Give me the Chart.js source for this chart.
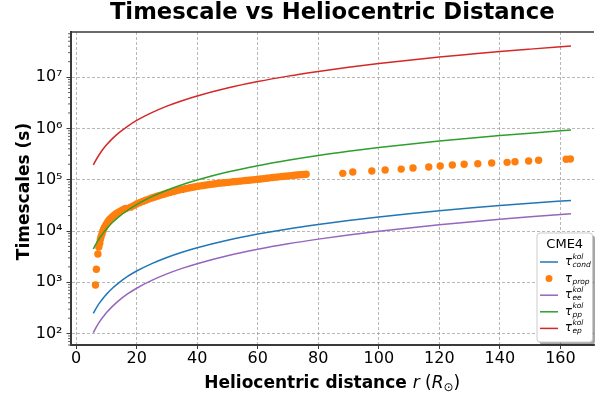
<!DOCTYPE html>
<html>
<head>
<meta charset="utf-8">
<script src="https://cdn.jsdelivr.net/npm/chart.js@4.4.1/dist/chart.umd.min.js"></script>
<style>
  html, body { margin: 0; padding: 0; background: #fff; overflow: hidden; }
  #chart { display: block; }
</style>
</head>
<body>
<canvas id="chart" width="598" height="395"></canvas>
<script>
// Model curves: heliocentric distance (R_sun) and timescales (s)
const rCurve = [5.7, 6, 7, 8, 9, 10, 12, 14, 17, 20, 25, 30, 35, 40, 50, 60, 70, 80, 90, 100, 110, 120, 130, 140, 150, 163.5];
const tauCond = [249, 269, 340, 415, 496, 582, 766, 966, 1300, 1660, 2320, 3050, 3850, 4720, 6610, 8710, 11000, 13400, 16000, 18800, 21700, 24800, 28000, 31300, 34700, 39500];
const tauEE = [104, 113, 145, 179, 215, 255, 340, 436, 593, 767, 1090, 1460, 1870, 2310, 3300, 4400, 5620, 6950, 8380, 9910, 11500, 13200, 15000, 16900, 18900, 21700];
const tauPP = [4460, 4830, 6180, 7640, 9200, 10900, 14600, 18600, 25400, 32800, 46800, 62500, 79800, 98600, 141000, 188000, 240000, 297000, 358000, 424000, 493000, 566000, 643000, 724000, 807000, 927000];
const tauEP = [194000, 210000, 268000, 332000, 400000, 473000, 632000, 809000, 1100000, 1430000, 2030000, 2720000, 3470000, 4290000, 6120000, 8180000, 10450000, 12900000, 15600000, 18400000, 21400000, 24600000, 27900000, 31500000, 35100000, 40300000];

// Propagation timescale points (CME4)
const rProp = [6.4, 6.7, 7.2, 7.5, 7.8, 8.0, 8.2, 8.5, 8.8, 9.1, 9.4, 9.8, 10.2, 10.6, 11.0, 11.5, 12.0, 12.5, 13.0, 13.6, 14.2, 14.8, 15.4, 16.0, 16.5,
  18, 19, 20, 21, 22, 23, 24, 25, 26, 27, 28, 29, 30, 31, 32, 33, 34, 35, 36, 37, 38, 39, 40, 41, 42, 43, 44, 45, 46, 47,
  48, 49, 50, 51, 52, 53, 54, 55, 56, 57, 58, 59, 60, 61, 62, 63, 64, 65, 66, 67, 68, 69, 70, 71, 72, 73, 74, 75, 76,
  88.1, 91.4, 97.7, 102.1, 107.4, 111.3, 116.5, 120.3, 124.3, 128.2, 132.7, 137.3, 142.4, 145.0, 149.5, 152.8, 161.9, 163.3];
const tauProp = [885, 1800, 3560, 4900, 5800, 6800, 7600, 8600, 9800, 10800, 11800, 13000, 14200, 15500, 16600, 17800, 19000, 20100, 21200, 22400, 23600, 24700, 25800, 26800, 27600,
  29200, 31300, 33500, 35700, 37800, 39800, 41900, 44000, 46000, 48100, 50100, 52200, 54300, 56400, 58500, 60700, 62800, 64700, 66500, 68400, 70300, 72100, 74000, 75700, 77300, 78900, 80500, 82000, 83600, 85100,
  86300, 87500, 88700, 89900, 91200, 92500, 93800, 95100, 96400, 97700, 99100, 100500, 101900, 103500, 105200, 106900, 108600, 110400, 112200, 113800, 115300, 116900, 118600, 120200, 121900, 123600, 125000, 126500, 127900,
  133000, 141000, 148000, 155000, 161000, 169000, 177000, 185000, 194000, 200000, 205000, 211000, 218000, 224000, 231000, 239000, 250000, 253000];

// Axis ticks
const xTicks = [0, 20, 40, 60, 80, 100, 120, 140, 160];
const yTickValues = [1e2, 1e3, 1e4, 1e5, 1e6, 1e7];
const yTickLabels = ['10²', '10³', '10⁴', '10⁵', '10⁶', '10⁷'];

// Legend text
const legendTitle = 'CME4';
const legendSubs = ['cond', 'prop', 'ee', 'pp', 'ep'];
const legendSups = ['kol', '', 'kol', 'kol', 'kol'];

const FONT = '"DejaVu Sans", sans-serif';
const colors = ['#1f77b4', '#ff7f0e', '#9467bd', '#2ca02c', '#d62728'];
const spineColor = '#3a3a3a';
const gridColor = 'rgba(150,150,150,0.85)';

const toPoints = (xs, ys) => xs.map((x, i) => ({ x: x, y: ys[i] }));

function curve(data, color, order) {
  return {
    data: toPoints(rCurve, data),
    showLine: true,
    borderColor: color,
    backgroundColor: color,
    borderWidth: 1.5,
    pointRadius: 0,
    cubicInterpolationMode: 'monotone',
    order: order
  };
}

function roundRect(ctx, x, y, w, h, r) {
  ctx.beginPath();
  ctx.moveTo(x + r, y);
  ctx.lineTo(x + w - r, y);
  ctx.quadraticCurveTo(x + w, y, x + w, y + r);
  ctx.lineTo(x + w, y + h - r);
  ctx.quadraticCurveTo(x + w, y + h, x + w - r, y + h);
  ctx.lineTo(x + r, y + h);
  ctx.quadraticCurveTo(x, y + h, x, y + h - r);
  ctx.lineTo(x, y + r);
  ctx.quadraticCurveTo(x, y, x + r, y);
  ctx.closePath();
}

// Title, axis labels, top spine, minor ticks and legend
const decor = {
  id: 'decor',
  afterDraw(chart) {
    const { ctx, chartArea: a, scales: { y } } = chart;
    ctx.save();

    // top spine
    ctx.strokeStyle = spineColor;
    ctx.lineWidth = 1.5;
    ctx.beginPath();
    ctx.moveTo(a.left, a.top);
    ctx.lineTo(a.right, a.top);
    ctx.stroke();

    // minor log ticks
    ctx.lineWidth = 0.8;
    y.ticks.forEach(t => {
      if (yTickValues.includes(t.value)) return;
      const py = y.getPixelForValue(t.value);
      ctx.beginPath();
      ctx.moveTo(a.left - 2.5, py);
      ctx.lineTo(a.left, py);
      ctx.stroke();
    });

    const cx = (a.left + a.right) / 2;
    ctx.fillStyle = '#000';
    ctx.textBaseline = 'alphabetic';

    // title
    ctx.textAlign = 'center';
    ctx.font = 'bold 22.7px ' + FONT;
    ctx.fillText('Timescale vs Heliocentric Distance', cx, 18.5);

    // y label
    ctx.save();
    ctx.translate(28.5, (a.top + a.bottom) / 2 + 3);
    ctx.rotate(-Math.PI / 2);
    ctx.font = 'bold 17px ' + FONT;
    ctx.fillText('Timescales (s)', 0, 0);
    ctx.restore();

    // x label with italic math parts
    const parts = [
      { t: 'Heliocentric distance ', f: 'bold 17px ' + FONT, dy: 0 },
      { t: 'r', f: 'italic 17px ' + FONT, dy: 0 },
      { t: ' (', f: '17px ' + FONT, dy: 0 },
      { t: 'R', f: 'italic 17px ' + FONT, dy: 0 },
      { t: '⊙', f: '12px ' + FONT, dy: 3 },
      { t: ')', f: '17px ' + FONT, dy: 0 }
    ];
    let total = 0;
    parts.forEach(p => { ctx.font = p.f; p.w = ctx.measureText(p.t).width; total += p.w; });
    let px = cx - total / 2;
    ctx.textAlign = 'left';
    parts.forEach(p => {
      ctx.font = p.f;
      ctx.fillText(p.t, px, 387.5 + p.dy);
      px += p.w;
    });

    // legend
    const lx = 537, ly = 233, lw = 55.5, lh = 109;
    ctx.fillStyle = 'rgba(0,0,0,0.35)';
    roundRect(ctx, lx + 2.5, ly + 2.5, lw, lh, 3);
    ctx.fill();
    ctx.fillStyle = '#fff';
    roundRect(ctx, lx, ly, lw, lh, 3);
    ctx.fill();
    ctx.strokeStyle = '#cccccc';
    ctx.lineWidth = 1;
    ctx.stroke();

    ctx.fillStyle = '#000';
    ctx.textAlign = 'center';
    ctx.font = '13px ' + FONT;
    ctx.fillText(legendTitle, lx + lw / 2, ly + 15);

    ctx.textAlign = 'left';
    legendSubs.forEach((sub, i) => {
      const ey = ly + 29 + i * 16.6;
      if (i === 1) {
        ctx.fillStyle = colors[i];
        ctx.beginPath();
        ctx.arc(549, ey, 3.5, 0, Math.PI * 2);
        ctx.fill();
      } else {
        ctx.strokeStyle = colors[i];
        ctx.lineWidth = 1.5;
        ctx.beginPath();
        ctx.moveTo(540, ey);
        ctx.lineTo(558, ey);
        ctx.stroke();
      }
      ctx.fillStyle = '#000';
      ctx.font = 'italic 11.5px ' + FONT;
      ctx.fillText('τ', 565, ey + 3);
      const tw = ctx.measureText('τ').width;
      ctx.font = 'italic 7.5px ' + FONT;
      if (legendSups[i]) ctx.fillText(legendSups[i], 565 + tw + 0.5, ey - 3.5);
      ctx.fillText(sub, 565 + tw + 0.5, ey + 5);
    });

    ctx.restore();
  }
};

const ctxMain = document.getElementById('chart').getContext('2d');
new Chart(ctxMain, {
  type: 'scatter',
  data: {
    datasets: [
      curve(tauCond, colors[0], 4),
      {
        data: toPoints(rProp, tauProp),
        backgroundColor: colors[1],
        borderColor: colors[1],
        borderWidth: 0,
        pointRadius: 3.7,
        order: 3
      },
      curve(tauEE, colors[2], 2),
      curve(tauPP, colors[3], 1),
      curve(tauEP, colors[4], 0)
    ]
  },
  options: {
    responsive: false,
    animation: false,
    devicePixelRatio: 1,
    layout: { padding: { top: 32, left: 0, right: 0, bottom: 0 } },
    plugins: {
      legend: { display: false },
      title: { display: false },
      tooltip: { enabled: false }
    },
    scales: {
      x: {
        type: 'linear',
        min: -1.85,
        max: 171.1,
        afterFit: s => { s.height = 50; },
        afterBuildTicks: s => { s.ticks = xTicks.map(v => ({ value: v })); },
        border: { display: true, color: spineColor, width: 2, dash: [3, 2] },
        grid: { color: gridColor, lineWidth: 0.8, tickColor: spineColor, tickLength: 4, tickWidth: 1 },
        ticks: { color: '#000', font: { family: FONT, size: 16 }, padding: 0, maxRotation: 0 }
      },
      y: {
        type: 'logarithmic',
        min: 60,
        max: 7.57e7,
        afterFit: s => { s.width = 70.5; },
        afterBuildTicks: s => {
          const ticks = [];
          for (let d = 1; d <= 7; d++) {
            for (let m = 1; m <= 9; m++) {
              const v = m * Math.pow(10, d);
              if (v >= s.min && v <= s.max) ticks.push({ value: v });
            }
          }
          s.ticks = ticks;
        },
        border: { display: true, color: spineColor, width: 2, dash: [3, 2] },
        grid: {
          color: c => (c.tick && yTickValues.includes(c.tick.value)) ? gridColor : 'rgba(0,0,0,0)',
          lineWidth: 0.8,
          tickColor: c => (c.tick && yTickValues.includes(c.tick.value)) ? spineColor : 'rgba(0,0,0,0)',
          tickLength: 4,
          tickWidth: 1
        },
        ticks: {
          color: '#000',
          font: { family: FONT, size: 16 },
          padding: 4,
          autoSkip: false,
          callback: v => {
            const i = yTickValues.indexOf(v);
            return i >= 0 ? yTickLabels[i] : '';
          }
        }
      }
    }
  },
  plugins: [decor]
});
</script>
</body>
</html>
